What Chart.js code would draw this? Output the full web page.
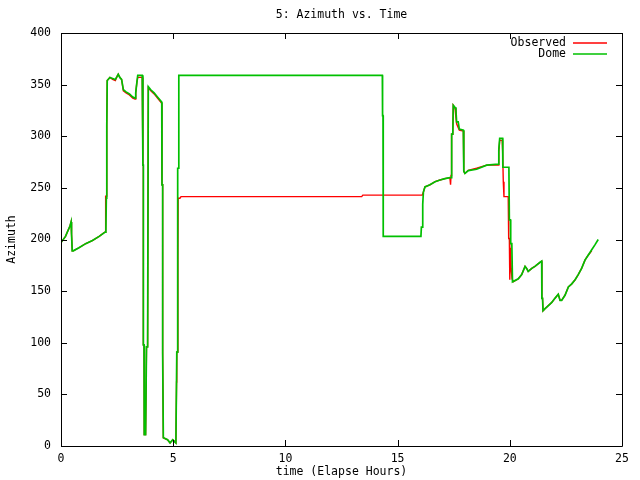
<!DOCTYPE html>
<html>
<head>
<meta charset="utf-8">
<script src="https://cdn.jsdelivr.net/npm/chart.js@4/dist/chart.umd.min.js"></script>
<style>
html,body{margin:0;padding:0;background:#fff;}
#wrap{width:640px;height:480px;}
</style>
</head>
<body>
<div id="wrap"><canvas id="c" width="640" height="480"></canvas></div>
<script>
const chartTitle = "5: Azimuth vs. Time";
const xTitle = "time (Elapse Hours)";
const yTitle = "Azimuth";
const seriesNames = ["Observed", "Dome"];
const xTicks = [0, 5, 10, 15, 20, 25];
const yTicks = [0, 50, 100, 150, 200, 250, 300, 350, 400];

const domeTime = [0.00,0.20,0.40,0.45,0.47,0.50,0.55,0.8,1.1,1.4,1.7,1.95,2.0,2.02,2.04,2.06,2.18,2.3,2.42,2.5,2.55,2.62,2.7,2.78,2.9,3.05,3.2,3.30,3.33,3.38,3.42,3.62,3.65,3.65,3.67,3.67,3.70,3.71,3.77,3.81,3.86,3.89,4.0,4.15,4.3,4.49,4.50,4.53,4.53,4.56,4.75,4.86,4.98,5.12,5.16,5.18,5.20,5.22,5.25,14.32,14.33,14.35,14.36,16.04,16.06,16.10,16.12,16.15,16.22,16.44,16.67,16.89,17.11,17.33,17.40,17.41,17.46,17.48,17.56,17.60,17.63,17.70,17.75,17.93,17.95,18.0,18.15,18.52,18.97,19.49,19.51,19.55,19.68,19.69,19.96,19.98,20.03,20.04,20.09,20.12,20.38,20.53,20.68,20.75,20.82,20.98,21.12,21.35,21.42,21.43,21.46,21.48,21.57,21.72,21.87,22.01,22.16,22.24,22.31,22.46,22.61,22.76,22.91,23.05,23.20,23.35,23.50,23.65,23.80,23.94];
const domeAz = [197,203,213,217,205,189,189,192,196,199,203,207,207,240,310,354,357,356,355,358,360,357,355,345,343,341,338,337,342,352,359,359,359,272,272,98,98,11,11,96,96,348,345,342,338,333,253,253,90,8,6,3,6,3,91,91,269,269,359,359,320,320,203,203,212,212,234,246,251,253,256,257.6,259,260,260,302,302,330,328,325,314,314,307,306,266,264,266.7,268,272,273,287,298,298,270,270,219,219,196,196,159,162,166,174,172,169,172,174,178,179,143,143,131,133,136,139,143,147,141,141,146,154,157,161,166,172,180,185,190,195,200];

const obsTime = [0.00,0.20,0.40,0.45,0.47,0.50,0.55,0.8,1.1,1.4,1.7,1.95,1.98,1.99,2.03,2.04,2.06,2.18,2.3,2.42,2.5,2.55,2.62,2.7,2.78,2.9,3.05,3.2,3.30,3.33,3.38,3.42,3.62,3.65,3.65,3.67,3.67,3.70,3.71,3.77,3.81,3.86,3.89,4.0,4.15,4.3,4.49,4.50,4.53,4.53,4.56,4.75,4.86,4.98,5.12,5.15,5.16,5.19,5.21,5.22,5.30,5.35,13.40,13.45,16.10,16.15,16.22,16.44,16.67,16.89,17.11,17.33,17.36,17.38,17.40,17.41,17.46,17.48,17.56,17.60,17.63,17.75,17.93,17.95,18.0,18.15,18.52,18.97,19.49,19.51,19.55,19.66,19.68,19.71,19.74,19.93,19.95,19.98,20.0,20.03,20.06,20.10,20.16,20.38,20.53,20.68,20.75,20.82,20.98,21.12,21.35,21.42,21.43,21.46,21.48,21.57,21.72,21.87,22.01,22.16,22.24,22.31,22.46,22.61,22.76,22.91,23.05,23.20,23.35,23.50,23.65];
const obsAz = [197,203,213,217,205,189,189,192,196,199,203,207,207,242,242,311,354,357,355,354,358,360,357,355,344,342,340,337,336,342,352,357,357,357,272,272,98,98,11,11,96,96,347,344,341,337,332,253,253,90,8,6,3,6,3,62,91,91,180,240,240,241.5,241.5,243,243,246,251,253,256,257.6,259,260,253,262,280,302,302,330,327,318,312,306,305,266,264,267,269,272,272,285,296,296,286,256,241.5,241.5,201,201,161,192,172,162,159,162,166,174,172,169,172,174,178,179,143,143,131,133,136,139,143,147,141,141,146,154,157,161,166,172,180,185,189];

const FONT = "'DejaVu Sans Mono', 'Liberation Mono', monospace";
const FS = 11.5;

const frame = {
  id: 'frame',
  afterDraw(chart) {
    const ctx = chart.ctx;
    const a = chart.chartArea;
    const xs = chart.scales.x, ys = chart.scales.y;
    ctx.save();
    ctx.strokeStyle = '#000';
    ctx.lineWidth = 1;
    ctx.beginPath();
    ctx.rect(Math.round(a.left) + 0.5, Math.round(a.top) + 0.5, Math.round(a.right - a.left), Math.round(a.bottom - a.top));
    ctx.stroke();
    const L = 6;
    ctx.beginPath();
    xTicks.forEach(v => {
      const px = Math.round(xs.getPixelForValue(v)) + 0.5;
      ctx.moveTo(px, a.bottom); ctx.lineTo(px, a.bottom - L);
      ctx.moveTo(px, a.top); ctx.lineTo(px, a.top + L);
    });
    yTicks.forEach(v => {
      const py = Math.round(ys.getPixelForValue(v)) + 0.5;
      ctx.moveTo(a.left, py); ctx.lineTo(a.left + L, py);
      ctx.moveTo(a.right, py); ctx.lineTo(a.right - L, py);
    });
    ctx.stroke();
    ctx.fillStyle = '#000';
    ctx.font = FS + "px " + FONT;
    ctx.textAlign = 'center';
    ctx.textBaseline = 'middle';
    const cx = (a.left + a.right) / 2;
    ctx.fillText(chartTitle, cx, 15);
    ctx.fillText(xTitle, cx, 472);
    ctx.save();
    ctx.translate(12, (a.top + a.bottom) / 2);
    ctx.rotate(-Math.PI / 2);
    ctx.fillText(yTitle, 0, 0);
    ctx.restore();
    // legend
    const colors = ['#ff0000', '#00c000'];
    const rows = [43, 54];
    ctx.textAlign = 'right';
    seriesNames.forEach((n, i) => {
      ctx.fillStyle = '#000';
      ctx.fillText(n, 566, rows[i]);
      ctx.strokeStyle = colors[i];
      ctx.lineWidth = 1.5;
      ctx.beginPath();
      ctx.moveTo(573, rows[i]);
      ctx.lineTo(607, rows[i]);
      ctx.stroke();
    });
    ctx.restore();
  }
};

const toPts = (t, v) => t.map((x, i) => ({x: x, y: v[i]}));

new Chart(document.getElementById('c'), {
  type: 'line',
  data: {
    datasets: [
      { label: seriesNames[0], data: toPts(obsTime, obsAz), borderColor: '#ff0000', backgroundColor: '#ff0000', borderWidth: 1.4, pointRadius: 0, tension: 0, fill: false, order: 1 },
      { label: seriesNames[1], data: toPts(domeTime, domeAz), borderColor: '#00c000', backgroundColor: '#00c000', borderWidth: 1.7, pointRadius: 0, tension: 0, fill: false, order: 0 }
    ]
  },
  options: {
    responsive: false,
    animation: false,
    parsing: true,
    layout: { padding: { top: 33, right: 18, left: 0, bottom: 0 } },
    plugins: { legend: { display: false }, title: { display: false }, tooltip: { enabled: false } },
    scales: {
      x: {
        type: 'linear', min: 0, max: 25,
        afterFit: s => { s.height = 34; },
        afterBuildTicks: s => { s.ticks = xTicks.map(v => ({value: v})); },
        grid: { display: false, drawTicks: false },
        border: { display: false },
        ticks: { padding: 6, color: '#000', font: { family: FONT, size: FS }, maxRotation: 0, autoSkip: false }
      },
      y: {
        type: 'linear', min: 0, max: 400,
        afterFit: s => { s.width = 61; },
        afterBuildTicks: s => { s.ticks = yTicks.map(v => ({value: v})); },
        grid: { display: false, drawTicks: false },
        border: { display: false },
        ticks: { padding: 10, color: '#000', font: { family: FONT, size: FS }, autoSkip: false }
      }
    }
  },
  plugins: [frame]
});
</script>
</body>
</html>
